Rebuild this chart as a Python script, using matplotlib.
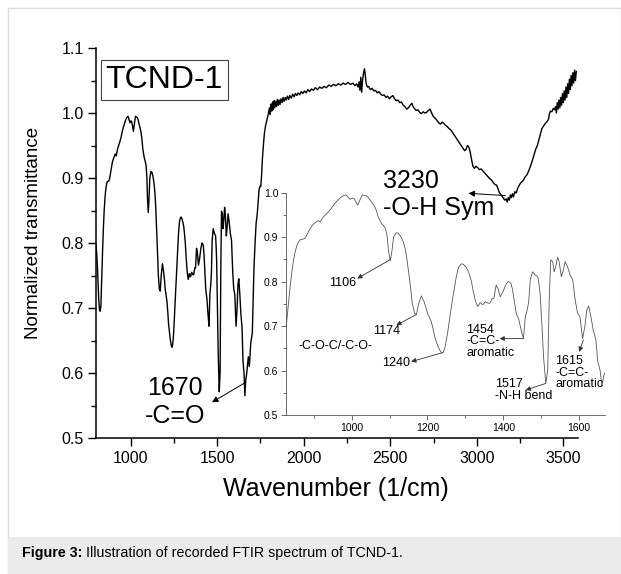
import matplotlib
matplotlib.use("Agg")
import matplotlib.pyplot as plt
from matplotlib.patches import Rectangle
from matplotlib.ticker import MultipleLocator

plt.rcParams["font.family"] = ["Liberation Sans", "DejaVu Sans"]

# FTIR spectrum of TCND-1 (wavenumber in 1/cm, normalized transmittance)
wavenumber = [
    800, 804, 808, 812, 816, 820, 824, 828, 833, 838, 843, 847, 851, 855, 860, 864, 870, 877,
    882, 886, 890, 895, 901, 908, 912, 917, 921, 926, 932, 939, 945, 952, 958, 965, 971, 978,
    985, 991, 996, 1001, 1006, 1011, 1016, 1022, 1028, 1033, 1039, 1044, 1048, 1054, 1061,
    1066, 1070, 1075, 1079, 1084, 1089, 1094, 1097, 1102, 1106, 1111, 1118, 1123, 1127, 1132,
    1136, 1141, 1145, 1149, 1153, 1157, 1160, 1166, 1171, 1177, 1184, 1191, 1196, 1200, 1205,
    1210, 1215, 1219, 1224, 1228, 1233, 1237, 1241, 1246, 1250, 1254, 1258, 1263, 1267, 1272,
    1276, 1280, 1283, 1288, 1292, 1297, 1302, 1307, 1311, 1316, 1320, 1324, 1327, 1333, 1339,
    1346, 1353, 1358, 1364, 1371, 1375, 1381, 1386, 1392, 1399, 1406, 1412, 1416, 1420, 1424,
    1427, 1431, 1434, 1441, 1447, 1453, 1458, 1463, 1467, 1471, 1477, 1484, 1491, 1494, 1497,
    1502, 1506, 1512, 1517, 1521, 1525, 1530, 1534, 1539, 1543, 1547, 1553, 1558, 1563, 1569,
    1576, 1583, 1590, 1596, 1602, 1609, 1615, 1620, 1625, 1631, 1637, 1644, 1649, 1655, 1660,
    1665, 1671, 1680, 1686, 1694, 1703, 1708, 1713, 1719, 1725, 1732, 1737, 1742, 1747, 1752,
    1757, 1761, 1767, 1773, 1780, 1787, 1796, 1802, 1806, 1811, 1815, 1820, 1824, 1829, 1833,
    1838, 1843, 1848, 1853, 1858, 1863, 1869, 1875, 1881, 1887, 1893, 1899, 1906, 1913, 1920,
    1928, 1936, 1944, 1952, 1960, 1968, 1977, 1986, 1995, 2004, 2014, 2024, 2034, 2045, 2056,
    2068, 2080, 2092, 2105, 2118, 2131, 2145, 2158, 2172, 2186, 2200, 2214, 2228, 2242, 2256,
    2270, 2284, 2296, 2306, 2314, 2320, 2325, 2330, 2335, 2340, 2346, 2351, 2356, 2361, 2368,
    2375, 2385, 2395, 2405, 2415, 2425, 2435, 2445, 2455, 2465, 2475, 2485, 2495, 2505, 2515,
    2525, 2535, 2545, 2555, 2565, 2575, 2585, 2595, 2605, 2615, 2625, 2632, 2640, 2650, 2660,
    2670, 2680, 2690, 2700, 2710, 2720, 2730, 2738, 2746, 2755, 2763, 2772, 2780, 2790, 2800,
    2810, 2820, 2830, 2840, 2850, 2860, 2870, 2880, 2890, 2900, 2910, 2920, 2930, 2938, 2946,
    2954, 2962, 2970, 2978, 2986, 2995, 3005, 3015, 3025, 3035, 3045, 3055, 3065, 3075, 3085,
    3095, 3105, 3115, 3122, 3130, 3138, 3146, 3154, 3162, 3170, 3176, 3182, 3188, 3194, 3200,
    3206, 3212, 3220, 3228, 3236, 3244, 3252, 3260, 3270, 3280, 3290, 3300, 3310, 3320, 3330,
    3340, 3350, 3358, 3366, 3376, 3386, 3396, 3406, 3414, 3420, 3426, 3434, 3442, 3450, 3455,
    3460, 3465, 3470, 3475, 3480, 3485, 3490, 3495, 3500, 3505, 3510, 3515, 3520, 3525, 3530,
    3535, 3540, 3545, 3550, 3555, 3560, 3565, 3570, 3575,
]
transmittance = [
    0.797, 0.785, 0.765, 0.738, 0.712, 0.698, 0.695, 0.702, 0.745, 0.789, 0.825, 0.849, 0.866,
    0.879, 0.889, 0.894, 0.895, 0.897, 0.905, 0.912, 0.918, 0.925, 0.930, 0.935, 0.937, 0.934,
    0.940, 0.946, 0.951, 0.957, 0.963, 0.972, 0.978, 0.984, 0.989, 0.993, 0.995, 0.990, 0.985,
    0.988, 0.987, 0.980, 0.972, 0.984, 0.995, 0.994, 0.993, 0.989, 0.984, 0.978, 0.969, 0.958,
    0.946, 0.937, 0.931, 0.926, 0.920, 0.901, 0.871, 0.847, 0.867, 0.901, 0.910, 0.909, 0.905,
    0.898, 0.890, 0.875, 0.856, 0.830, 0.804, 0.775, 0.751, 0.729, 0.726, 0.751, 0.768, 0.755,
    0.742, 0.729, 0.720, 0.710, 0.693, 0.676, 0.663, 0.654, 0.645, 0.640, 0.640, 0.652, 0.669,
    0.690, 0.714, 0.742, 0.766, 0.790, 0.811, 0.826, 0.834, 0.839, 0.840, 0.837, 0.832, 0.825,
    0.815, 0.800, 0.781, 0.766, 0.755, 0.744, 0.753, 0.748, 0.755, 0.752, 0.751, 0.762, 0.762,
    0.792, 0.784, 0.766, 0.777, 0.792, 0.800, 0.799, 0.796, 0.783, 0.766, 0.745, 0.729, 0.714,
    0.691, 0.672, 0.721, 0.736, 0.755, 0.804, 0.822, 0.815, 0.811, 0.795, 0.774, 0.699, 0.631,
    0.571, 0.601, 0.759, 0.849, 0.845, 0.822, 0.837, 0.855, 0.845, 0.811, 0.825, 0.845, 0.834,
    0.815, 0.804, 0.755, 0.729, 0.721, 0.672, 0.699, 0.736, 0.745, 0.721, 0.691, 0.669, 0.620,
    0.601, 0.565, 0.589, 0.600, 0.625, 0.610, 0.646, 0.661, 0.715, 0.764, 0.800, 0.830, 0.846,
    0.865, 0.882, 0.887, 0.887, 0.905, 0.928, 0.950, 0.969, 0.981, 0.989, 0.999, 1.008, 0.998,
    1.014, 1.003, 1.017, 1.005, 1.019, 1.008, 1.018, 1.010, 1.021, 1.012, 1.020, 1.013, 1.022,
    1.016, 1.024, 1.018, 1.024, 1.020, 1.026, 1.021, 1.027, 1.023, 1.029, 1.025, 1.030, 1.027,
    1.031, 1.028, 1.033, 1.030, 1.034, 1.031, 1.036, 1.033, 1.037, 1.035, 1.039, 1.036, 1.040,
    1.038, 1.041, 1.039, 1.043, 1.041, 1.044, 1.042, 1.045, 1.043, 1.046, 1.044, 1.047, 1.044,
    1.046, 1.042, 1.045, 1.040, 1.048, 1.035, 1.055, 1.032, 1.050, 1.062, 1.068, 1.058, 1.045,
    1.040, 1.041, 1.036, 1.038, 1.034, 1.035, 1.031, 1.033, 1.029, 1.027, 1.028, 1.024, 1.026,
    1.022, 1.025, 1.027, 1.022, 1.019, 1.020, 1.016, 1.017, 1.012, 1.010, 1.006, 1.008, 1.012,
    1.015, 1.010, 1.007, 1.004, 1.005, 1.001, 0.999, 1.002, 1.000, 1.001, 1.004, 1.006, 1.001,
    0.996, 0.993, 0.991, 0.988, 0.985, 0.983, 0.986, 0.984, 0.981, 0.979, 0.976, 0.974, 0.970,
    0.966, 0.962, 0.958, 0.954, 0.950, 0.946, 0.942, 0.944, 0.950, 0.948, 0.940, 0.928, 0.918,
    0.915, 0.918, 0.916, 0.913, 0.914, 0.911, 0.908, 0.905, 0.902, 0.899, 0.897, 0.893, 0.890,
    0.889, 0.884, 0.878, 0.875, 0.872, 0.869, 0.866, 0.868, 0.863, 0.870, 0.866, 0.874, 0.870,
    0.876, 0.871, 0.879, 0.877, 0.884, 0.888, 0.892, 0.894, 0.897, 0.902, 0.905, 0.911, 0.918,
    0.926, 0.935, 0.944, 0.950, 0.958, 0.966, 0.976, 0.980, 0.984, 0.987, 0.990, 0.999, 1.003,
    1.002, 1.007, 1.005, 1.010, 1.000, 1.016, 1.006, 1.020, 1.008, 1.024, 1.012, 1.030, 1.016,
    1.034, 1.020, 1.040, 1.024, 1.045, 1.030, 1.052, 1.036, 1.058, 1.042, 1.062, 1.046, 1.066,
    1.050, 1.064,
]

main_xticks = [1000, 1500, 2000, 2500, 3000, 3500]
main_yticks = [0.5, 0.6, 0.7, 0.8, 0.9, 1.0, 1.1]
inset_xticks = [1000, 1200, 1400, 1600]
inset_yticks = [0.5, 0.6, 0.7, 0.8, 0.9, 1.0]

fig = plt.figure(figsize=(6.21, 5.74), dpi=100)

# page frame + caption band
fig.patches.append(Rectangle((8 / 621, 0), 1 - 8 / 621, 1 - 8 / 574, transform=fig.transFigure,
                             facecolor="none", edgecolor="#dcdcdc", lw=1.0))
fig.patches.append(Rectangle((8 / 621, 0), 1 - 8 / 621, 37 / 574, transform=fig.transFigure,
                             facecolor="#ebebeb", edgecolor="none"))

# main axes
ax = fig.add_axes([0.1546, 0.2369, 0.7762, 0.6794])
ax.plot(wavenumber, transmittance, color="black", lw=1.0)
ax.set_xlim(800, 3585)
ax.set_ylim(0.5, 1.1)
ax.set_xticks(main_xticks)
ax.set_yticks(main_yticks)
ax.set_yticklabels([f"{v:.1f}" for v in main_yticks])
ax.xaxis.set_minor_locator(MultipleLocator(250))
ax.yaxis.set_minor_locator(MultipleLocator(0.05))
ax.spines[["top", "right"]].set_visible(False)
for s in ("left", "bottom"):
    ax.spines[s].set_linewidth(1.1)
ax.tick_params(which="major", direction="out", length=6, width=1.0, labelsize=11.5, pad=3)
ax.tick_params(which="minor", direction="out", length=3.5, width=1.0)
ax.set_xlabel("Wavenumber (1/cm)", fontsize=18)
ax.set_ylabel("Normalized transmittance", fontsize=13.5)
ax.xaxis.set_label_coords(0.498, -0.10)
ax.yaxis.set_label_coords(-0.113, 0.525)

ax.text(1195, 1.051, "TCND-1", fontsize=23, ha="center", va="center",
        bbox=dict(boxstyle="square,pad=0.16", facecolor="white", edgecolor="#444444", lw=0.8))

arrow_main = dict(arrowstyle="-|>", color="black", lw=0.7, shrinkA=0, shrinkB=0, mutation_scale=9)
ax.text(1095, 0.566, "1670", fontsize=18, ha="left", va="baseline")
ax.text(1083, 0.523, "-C=O", fontsize=18, ha="left", va="baseline")
ax.annotate("", xy=(1470, 0.555), xytext=(1667, 0.586), arrowprops=arrow_main)
ax.text(2457, 0.8846, "3230", fontsize=18, ha="left", va="baseline")
ax.text(2457, 0.843, "-O-H Sym", fontsize=18, ha="left", va="baseline")
ax.annotate("", xy=(2952, 0.8765), xytext=(3165, 0.873), arrowprops=arrow_main)

# inset: zoom of the fingerprint region
ins = fig.add_axes([0.4605, 0.2770, 0.5137, 0.3873])
ins.patch.set_alpha(0)
ins.plot(wavenumber, transmittance, color="#555555", lw=0.6)
ins.set_xlim(827, 1668)
ins.set_ylim(0.5, 1.0)
ins.set_xticks(inset_xticks)
ins.set_yticks(inset_yticks)
ins.set_yticklabels([f"{v:.1f}" for v in inset_yticks])
ins.xaxis.set_minor_locator(MultipleLocator(100))
ins.yaxis.set_minor_locator(MultipleLocator(0.05))
ins.spines[["top", "right"]].set_visible(False)
for s in ("left", "bottom"):
    ins.spines[s].set_linewidth(0.6)
    ins.spines[s].set_color("#555555")
ins.tick_params(which="major", direction="out", length=3.5, width=0.6, color="#555555",
                labelsize=7.5, pad=2)
ins.tick_params(which="minor", direction="out", length=2, width=0.6, color="#555555")

arrow_ins = dict(arrowstyle="-|>", color="#333333", lw=0.6, shrinkA=0, shrinkB=0, mutation_scale=7)
fs = 9
ins.text(1013, 0.797, "1106", fontsize=fs, ha="right", va="center")
ins.annotate("", xy=(1015, 0.807), xytext=(1101, 0.849), arrowprops=arrow_ins)
ins.text(1127, 0.6885, "1174", fontsize=fs, ha="right", va="center")
ins.annotate("", xy=(1118, 0.702), xytext=(1171, 0.726), arrowprops=arrow_ins)
ins.text(957, 0.656, "-C-O-C/-C-O-", fontsize=fs, ha="center", va="center")
ins.text(1153, 0.617, "1240", fontsize=fs, ha="right", va="center")
ins.annotate("", xy=(1157, 0.620), xytext=(1239, 0.640), arrowprops=arrow_ins)
ins.text(1303, 0.705, "1454\n-C=C-\naromatic", fontsize=fs, ha="left", va="top", linespacing=0.95)
ins.annotate("", xy=(1390, 0.672), xytext=(1453, 0.672), arrowprops=arrow_ins)
ins.text(1377, 0.583, "1517\n-N-H bend", fontsize=fs, ha="left", va="top", linespacing=0.95)
ins.annotate("", xy=(1459, 0.556), xytext=(1512, 0.571), arrowprops=arrow_ins)
ins.text(1537, 0.635, "1615\n-C=C-\naromatic", fontsize=fs, ha="left", va="top", linespacing=0.95,
         clip_on=False)
ins.annotate("", xy=(1600, 0.642), xytext=(1611, 0.669), arrowprops=arrow_ins)

# caption: bold lead-in followed by regular text
cap_y = 17 / 574
t1 = fig.text(22 / 621, cap_y, "Figure 3:", fontsize=10.3, fontweight="bold", va="baseline")
fig.canvas.draw()
bb = t1.get_window_extent(fig.canvas.get_renderer())
fig.text(bb.x1 / fig.bbox.width, cap_y, " Illustration of recorded FTIR spectrum of TCND-1.",
         fontsize=10.3, va="baseline")

fig.savefig("out.png", dpi=100)
